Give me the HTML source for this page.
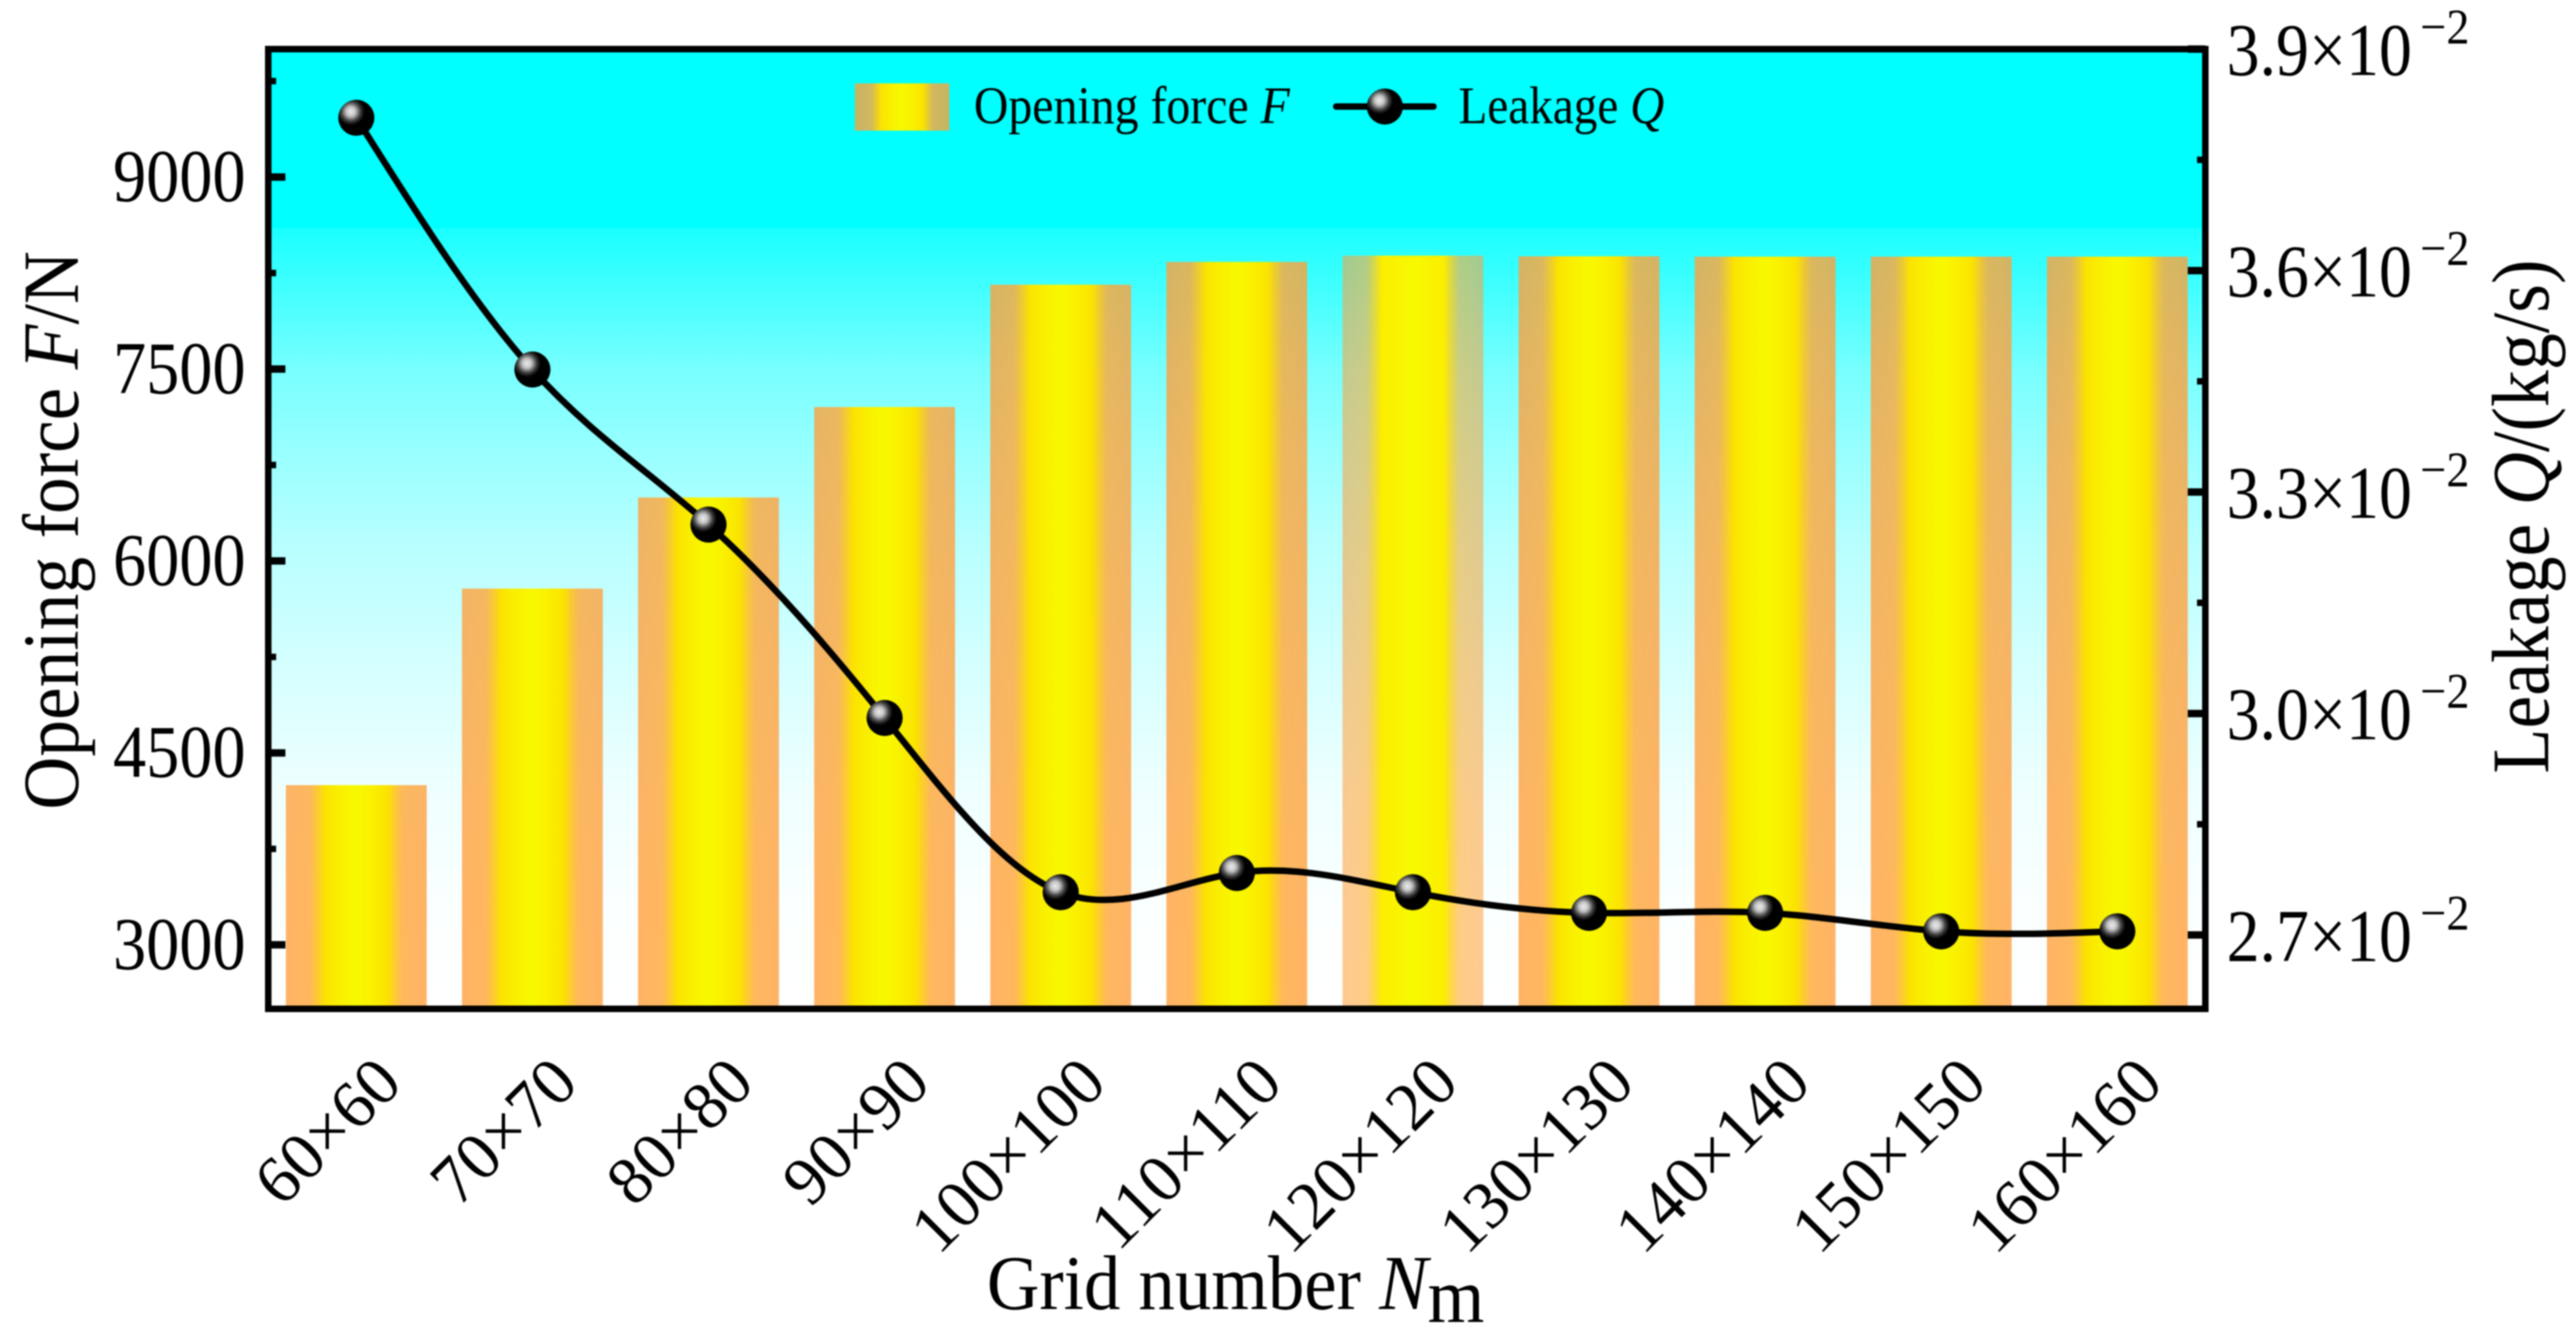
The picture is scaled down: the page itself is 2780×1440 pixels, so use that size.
<!DOCTYPE html>
<html lang="en">
<head>
<meta charset="utf-8">
<title>Opening force and leakage versus grid number</title>
<style>
html,body{margin:0;padding:0;background:#fff;width:2780px;height:1440px;overflow:hidden}
svg{display:block;filter:blur(0.7px)}
text{font-family:"Liberation Serif","Times New Roman",serif;fill:#000}
</style>
</head>
<body>
<svg id="chart" xmlns="http://www.w3.org/2000/svg" width="2780" height="1440" viewBox="0 0 2780 1440">
<defs>
<linearGradient id="bgGrad" gradientUnits="userSpaceOnUse" x1="0" y1="53" x2="0" y2="1089">
<stop offset="0" stop-color="rgb(0,255,255)"/>
<stop offset="0.186" stop-color="rgb(0,255,255)"/>
<stop offset="0.1875" stop-color="rgb(26,255,255)"/>
<stop offset="0.272" stop-color="rgb(80,255,255)"/>
<stop offset="0.335" stop-color="rgb(120,255,255)"/>
<stop offset="0.436" stop-color="rgb(158,255,255)"/>
<stop offset="0.518" stop-color="rgb(184,255,255)"/>
<stop offset="0.64" stop-color="rgb(212,255,255)"/>
<stop offset="0.77" stop-color="rgb(238,255,255)"/>
<stop offset="0.91" stop-color="rgb(252,255,255)"/>
<stop offset="1" stop-color="rgb(255,255,255)"/>
</linearGradient>
<linearGradient id="barGrad" x1="0" y1="0" x2="1" y2="0">
<stop offset="0" stop-color="rgb(255,158,59)" stop-opacity="0.78"/>
<stop offset="0.17" stop-color="rgb(255,168,59)" stop-opacity="0.82"/>
<stop offset="0.28" stop-color="#fbe300"/>
<stop offset="0.38" stop-color="#f9ef00"/>
<stop offset="0.5" stop-color="#f7f900"/>
<stop offset="0.62" stop-color="#f9ef00"/>
<stop offset="0.72" stop-color="#fbe300"/>
<stop offset="0.83" stop-color="rgb(255,168,59)" stop-opacity="0.82"/>
<stop offset="1" stop-color="rgb(255,158,59)" stop-opacity="0.78"/>
</linearGradient>
<linearGradient id="barGradLight" x1="0" y1="0" x2="1" y2="0">
<stop offset="0" stop-color="rgb(255,158,59)" stop-opacity="0.55"/>
<stop offset="0.17" stop-color="rgb(255,175,59)" stop-opacity="0.62"/>
<stop offset="0.28" stop-color="#fbee00"/>
<stop offset="0.5" stop-color="#f7f900"/>
<stop offset="0.72" stop-color="#fbee00"/>
<stop offset="0.83" stop-color="rgb(255,175,59)" stop-opacity="0.62"/>
<stop offset="1" stop-color="rgb(255,158,59)" stop-opacity="0.55"/>
</linearGradient>
<radialGradient id="ballGrad" cx="0.35" cy="0.33" r="0.42">
<stop offset="0" stop-color="#ececec"/>
<stop offset="0.3" stop-color="#c4c4c4"/>
<stop offset="0.65" stop-color="#3a3a3a"/>
<stop offset="0.9" stop-color="#000"/>
<stop offset="1" stop-color="#000"/>
</radialGradient>
</defs>
<rect x="289.5" y="53" width="2090.5" height="1036" fill="url(#bgGrad)"/>
<g id="bars"></g>
<g id="ticks"></g>
<path id="leakage-line" fill="none" stroke="#000" stroke-width="7"/>
<g id="markers"></g>
<rect x="289.5" y="53" width="2090.5" height="1036" fill="none" stroke="#000" stroke-width="7"/>
<g id="labels"></g>
<g id="legend">
<rect x="922.5" y="90" width="102" height="51" fill="url(#barGrad)"/>
<line x1="1442" y1="115" x2="1547" y2="115" stroke="#000" stroke-width="7" stroke-linecap="round"/>
<circle cx="1494.5" cy="115" r="19.5" fill="url(#ballGrad)"/>
</g>
</svg>
<script>
// Chart data
var categories = ['60×60','70×70','80×80','90×90','100×100','110×110','120×120','130×130','140×140','150×150','160×160'];
var openingForce = [4248,5784,6496,7203,8159,8337,8386,8381,8378,8378,8378];
var leakage = [3.807,3.466,3.256,2.994,2.758,2.784,2.758,2.730,2.730,2.705,2.705];
var leftTicks = [3000,4500,6000,7500,9000];
var leftMinorTicks = [3750,5250,6750,8250,9750];
var rightTicks = [2.7,3.0,3.3,3.6,3.9];
var rightMinorTicks = [2.85,3.15,3.45,3.75];

var NS = 'http://www.w3.org/2000/svg';
var plotLeft = 289.5, plotRight = 2380, plotTop = 53, plotBottom = 1089;
var step = (plotRight - plotLeft) / categories.length;
function xPos(i){ return plotLeft + step * (i + 0.5); }
function yLeft(v){ return plotBottom - (v - 2500) / (10000 - 2500) * (plotBottom - plotTop); }
function yRight(v){ return plotBottom - (v - 2.6) / (3.9 - 2.6) * (plotBottom - plotTop); }
function make(tag, parentId, attrs){
  var el = document.createElementNS(NS, tag);
  for (var k in attrs) el.setAttribute(k, attrs[k]);
  document.getElementById(parentId).appendChild(el);
  return el;
}
// Places text; target = advance length in px the text is horizontally fitted to (optional)
function placeText(el, x, y, rot, target, anchor){
  var len = el.getComputedTextLength();
  var s = target ? target / len : 1;
  el.setAttribute('text-anchor', anchor || 'start');
  el.setAttribute('transform', 'translate(' + x + ',' + y + ') rotate(' + (rot || 0) + ') scale(' + s + ',1)');
}
function tspan(parent, str, italic, dy, size){
  var t = document.createElementNS(NS, 'tspan');
  t.textContent = str;
  if (italic) t.setAttribute('font-style', 'italic');
  if (dy) t.setAttribute('dy', dy);
  if (size) t.setAttribute('font-size', size);
  parent.appendChild(t);
  return t;
}

// Bars
var barWidth = step * 0.8;
openingForce.forEach(function(v, i){
  var top = yLeft(v);
  var bar = make('rect', 'bars', {x: xPos(i) - barWidth / 2, y: top, width: barWidth, height: plotBottom - top,
    fill: i === 6 ? 'url(#barGradLight)' : 'url(#barGrad)'});
  
  
});

// Ticks
leftTicks.forEach(function(v){
  var t = make('line', 'ticks', {x1: plotLeft, x2: 308, y1: yLeft(v), y2: yLeft(v), stroke: '#000', 'stroke-width': 8});
  
  
  var lab = make('text', 'labels', {'font-size': 81});
  lab.textContent = String(v);
  
  
  placeText(lab, 265, yLeft(v) + 26, 0, 143, 'end');
});
leftMinorTicks.forEach(function(v){
  var t = make('line', 'ticks', {x1: plotLeft, x2: 298, y1: yLeft(v), y2: yLeft(v), stroke: '#000', 'stroke-width': 7});
  
  
});
rightTicks.forEach(function(v){
  var t = make('line', 'ticks', {x1: plotRight, x2: 2361, y1: yRight(v), y2: yRight(v), stroke: '#000', 'stroke-width': 8});
  
  
  var lab = make('text', 'labels', {'font-size': 81});
  lab.textContent = v.toFixed(1) + '×10';
  
  
  placeText(lab, 2403, yRight(v) + 28, 0, 200, 'start');
  var sup = make('text', 'labels', {'font-size': 54});
  sup.textContent = '−2';
  
  
  placeText(sup, 2612, yRight(v) - 6, 0, 53, 'start');
});
rightMinorTicks.forEach(function(v){
  var t = make('line', 'ticks', {x1: plotRight, x2: 2371, y1: yRight(v), y2: yRight(v), stroke: '#000', 'stroke-width': 7});
  
  
});

// Category labels
categories.forEach(function(c, i){
  var lab = make('text', 'labels', {'font-size': 73});
  lab.textContent = c;
  
  
  placeText(lab, xPos(i) + 52, 1172, -45, null, 'end');
});

// Leakage smooth curve: natural cubic spline through the points
(function(){
  var n = leakage.length;
  var ys = leakage.map(yRight);
  var c = new Array(n), d = new Array(n), m = new Array(n);
  c[0] = 0.5;
  d[0] = 1.5 * (ys[1] - ys[0]);
  for (var i = 1; i < n; i++) {
    var b = i === n - 1 ? 2 : 4;
    var r = i === n - 1 ? 3 * (ys[i] - ys[i - 1]) : 3 * (ys[i + 1] - ys[i - 1]);
    var w = b - c[i - 1];
    c[i] = 1 / w;
    d[i] = (r - d[i - 1]) / w;
  }
  m[n - 1] = d[n - 1];
  for (var j = n - 2; j >= 0; j--) m[j] = d[j] - c[j] * m[j + 1];
  var path = 'M' + xPos(0) + ' ' + ys[0];
  for (var k = 0; k < n - 1; k++) {
    path += ' C' + (xPos(k) + step / 3) + ' ' + (ys[k] + m[k] / 3) + ' ' +
      (xPos(k + 1) - step / 3) + ' ' + (ys[k + 1] - m[k + 1] / 3) + ' ' +
      xPos(k + 1) + ' ' + ys[k + 1];
  }
  document.getElementById('leakage-line').setAttribute('d', path);
})();

leakage.forEach(function(v, i){
  var dot = make('circle', 'markers', {cx: xPos(i), cy: yRight(v), r: 19.5, fill: 'url(#ballGrad)'});
  
  
});

// Axis titles
var yTitle = make('text', 'labels', {'font-size': 86});


tspan(yTitle, 'Opening force ');
tspan(yTitle, 'F', true);
tspan(yTitle, '/N');
placeText(yTitle, 84, 874, -90, 603, 'start');

var rTitle = make('text', 'labels', {'font-size': 88});


tspan(rTitle, 'Leakage ');
tspan(rTitle, 'Q', true);
tspan(rTitle, '/(kg/s)');
placeText(rTitle, 2750, 835, -90, 555, 'start');

var xTitle = make('text', 'labels', {'font-size': 84});


tspan(xTitle, 'Grid number ');
tspan(xTitle, 'N', true);
tspan(xTitle, 'm', false, 14);
placeText(xTitle, 1065, 1413, 0, 537, 'start');

var leg1 = make('text', 'legend', {'font-size': 57});


tspan(leg1, 'Opening force ');
tspan(leg1, 'F', true);
placeText(leg1, 1051, 133, 0, 341, 'start');

var leg2 = make('text', 'legend', {'font-size': 57});


tspan(leg2, 'Leakage ');
tspan(leg2, 'Q', true);
placeText(leg2, 1574, 133, 0, 222, 'start');
</script>
</body>
</html>
